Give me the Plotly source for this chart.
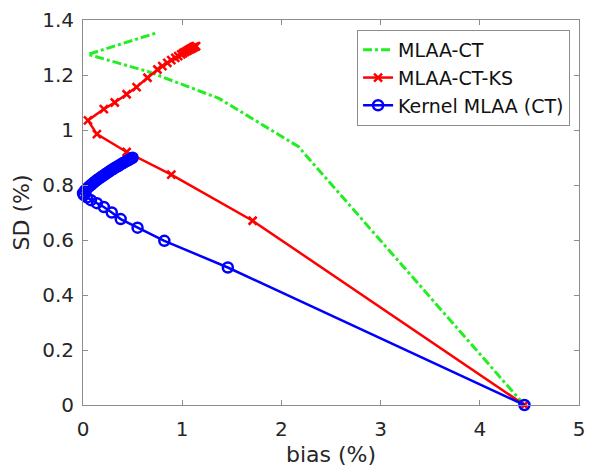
import plotly.graph_objects as go

# Bias / SD trajectories over iterations (percent)
ct_bias = [4.45, 2.17, 1.37, 0.66, 0.05, 0.40, 0.74]
ct_sd = [0.0, 0.94, 1.115, 1.212, 1.275, 1.315, 1.353]

ks_bias = [4.45, 1.71, 0.89, 0.44, 0.14, 0.05, 0.21, 0.32, 0.44, 0.54, 0.65, 0.75,
           0.80, 0.85, 0.89, 0.93, 0.96, 0.99, 1.01, 1.03, 1.05, 1.065, 1.08, 1.09,
           1.10, 1.11, 1.12, 1.13, 1.14]
ks_sd = [0.0, 0.67, 0.838, 0.92, 0.985, 1.035, 1.076, 1.10, 1.13, 1.156, 1.19, 1.22,
         1.232, 1.244, 1.254, 1.262, 1.269, 1.275, 1.28, 1.284, 1.288, 1.291, 1.294, 1.296,
         1.298, 1.30, 1.302, 1.303, 1.305]

kern_bias = [4.45, 1.46, 0.82, 0.55, 0.38, 0.29, 0.21, 0.14, 0.08, 0.04, 0.01, 0.0,
             0.02, 0.04, 0.06, 0.08, 0.10, 0.12, 0.14, 0.16, 0.18, 0.20, 0.22, 0.24,
             0.26, 0.28, 0.30, 0.32, 0.34, 0.36, 0.38, 0.40, 0.42, 0.44, 0.46, 0.48, 0.50]
kern_sd = [0.0, 0.50, 0.597, 0.645, 0.676, 0.70, 0.72, 0.734, 0.745, 0.755, 0.763, 0.77,
           0.78, 0.787, 0.794, 0.80, 0.806, 0.812, 0.818, 0.823, 0.828, 0.833, 0.838, 0.843,
           0.848, 0.853, 0.857, 0.862, 0.866, 0.870, 0.875, 0.879, 0.883, 0.887, 0.891, 0.895, 0.899]

x_ticks = [0, 1, 2, 3, 4, 5]
y_ticks = [0, 0.2, 0.4, 0.6, 0.8, 1.0, 1.2, 1.4]
y_tick_text = ["0", "0.2", "0.4", "0.6", "0.8", "1", "1.2", "1.4"]

FONT = "DejaVu Sans"
TXT = "#262626"
AX = "#8c8c8c"

fig = go.Figure()
fig.add_trace(go.Scatter(
    x=ct_bias, y=ct_sd, mode="lines", name="MLAA-CT",
    line=dict(color="#22ee22", width=3, dash="dashdot"), cliponaxis=False))
fig.add_trace(go.Scatter(
    x=ks_bias, y=ks_sd, mode="lines+markers", name="MLAA-CT-KS",
    line=dict(color="#ff0000", width=2.5),
    marker=dict(symbol="x-thin", size=8, line=dict(color="#ff0000", width=2.5)),
    cliponaxis=False))
fig.add_trace(go.Scatter(
    x=kern_bias, y=kern_sd, mode="lines+markers", name="Kernel MLAA (CT)",
    line=dict(color="#0000ff", width=2.5),
    marker=dict(symbol="circle-open", size=10, color="#0000ff", line=dict(width=2.5)),
    cliponaxis=False))

axis_common = dict(
    showline=True, linecolor=AX, linewidth=1, mirror="allticks",
    ticks="inside", ticklen=5, tickcolor=AX, showgrid=False, zeroline=False,
    tickfont=dict(family=FONT, size=20, color=TXT),
)
fig.update_xaxes(range=[0, 5], tickvals=x_ticks, ticktext=[str(v) for v in x_ticks],
                 ticklabelstandoff=6,
                 title=dict(text="bias (%)", font=dict(family=FONT, size=22, color=TXT), standoff=6),
                 **axis_common)
fig.update_yaxes(range=[0, 1.4], tickvals=y_ticks, ticktext=y_tick_text,
                 ticklabelstandoff=4,
                 title=dict(text="SD (%)", font=dict(family=FONT, size=22, color=TXT), standoff=6),
                 **axis_common)

fig.update_layout(
    width=593, height=474,
    margin=dict(l=83, r=8, t=20, b=69),
    plot_bgcolor="white", paper_bgcolor="white",
    font=dict(family=FONT, size=18, color=TXT),
    legend=dict(x=0.982, y=0.974, xanchor="right", yanchor="top",
                bgcolor="white", bordercolor=AX, borderwidth=1,
                font=dict(family=FONT, size=19, color="#111111")),
)

fig.write_html("out.html")
